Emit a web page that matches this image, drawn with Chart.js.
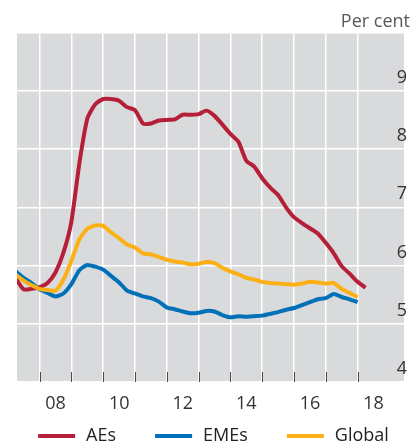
<!DOCTYPE html>
<html>
<head>
<meta charset="utf-8">
<script src="https://cdn.jsdelivr.net/npm/chart.js@4"></script>
<style>
    html, body { margin: 0; padding: 0; background: #fff; }
    #wrap { width: 417px; height: 448px; }
</style>
</head>
<body>
<div id="wrap"><canvas id="rateChart"></canvas></div>
<script>
// quarterly observations, decimal years
var quarters = [2007.25, 2007.5, 2007.75, 2008, 2008.25, 2008.5, 2008.75, 2009, 2009.25, 2009.5, 2009.75,
    2010, 2010.25, 2010.5, 2010.75, 2011, 2011.25, 2011.5, 2011.75, 2012, 2012.25, 2012.5, 2012.75,
    2013, 2013.25, 2013.5, 2013.75, 2014, 2014.25, 2014.5, 2014.75, 2015, 2015.25, 2015.5, 2015.75,
    2016, 2016.25, 2016.5, 2016.75, 2017, 2017.25, 2017.5, 2017.75, 2018, 2018.25];
var aes = [5.78, 5.59, 5.60, 5.63, 5.70, 5.88, 6.22, 6.75, 7.75, 8.52, 8.77,
    8.86, 8.86, 8.83, 8.72, 8.67, 8.44, 8.44, 8.49, 8.50, 8.51, 8.59, 8.59,
    8.60, 8.66, 8.57, 8.42, 8.26, 8.13, 7.80, 7.70, 7.50, 7.34, 7.21, 7.00,
    6.83, 6.73, 6.64, 6.55, 6.39, 6.21, 5.99, 5.86, 5.72, 5.62];
var emes = [5.90, 5.79, 5.70, 5.59, 5.53, 5.47, 5.52, 5.68, 5.92, 6.01, 5.98,
    5.93, 5.82, 5.71, 5.57, 5.52, 5.47, 5.44, 5.38, 5.28, 5.25, 5.21, 5.18,
    5.19, 5.22, 5.21, 5.15, 5.11, 5.13, 5.12, 5.13, 5.14, 5.17, 5.20, 5.24,
    5.27, 5.32, 5.37, 5.42, 5.44, 5.51, 5.46, 5.42, 5.37, null];
var globalRate = [5.84, 5.74, 5.66, 5.60, 5.58, 5.57, 5.76, 6.08, 6.45, 6.63, 6.69,
    6.68, 6.57, 6.47, 6.36, 6.31, 6.21, 6.19, 6.15, 6.10, 6.07, 6.05, 6.02,
    6.03, 6.06, 6.04, 5.96, 5.90, 5.85, 5.79, 5.76, 5.72, 5.70, 5.69, 5.68,
    5.67, 5.69, 5.72, 5.71, 5.69, 5.70, 5.60, 5.53, 5.46, null];
var yearTicks = [2008, 2009, 2010, 2011, 2012, 2013, 2014, 2015, 2016, 2017, 2018];
var valueTicks = [4, 5, 6, 7, 8, 9, 10];

function points(values) {
    return quarters.map(function (q, i) {
        return { x: q, y: values[i] };
    }).filter(function (p) {
        return p.y !== null;
    });
}

// grey plot background
var plotBackground = {
    id: 'plotBackground',
    beforeDraw: function (chart) {
        var a = chart.chartArea;
        chart.ctx.save();
        chart.ctx.fillStyle = '#d9dadc';
        chart.ctx.fillRect(a.left, a.top, a.right - a.left, a.bottom - a.top);
        chart.ctx.restore();
    }
};

// short dark year marks standing on the bottom edge
var yearMarks = {
    id: 'yearMarks',
    afterDraw: function (chart) {
        var xScale = chart.scales.x;
        var a = chart.chartArea;
        var ctx = chart.ctx;
        ctx.save();
        ctx.strokeStyle = '#4a4a4a';
        ctx.lineWidth = 1;
        yearTicks.forEach(function (yr) {
            var px = Math.round(xScale.getPixelForValue(yr)) + 0.5;
            ctx.beginPath();
            ctx.moveTo(px, a.bottom - 10);
            ctx.lineTo(px, a.bottom);
            ctx.stroke();
        });
        ctx.restore();
    }
};

// legend row under the axis: short thick swatch + label, wide gaps
var bottomLegend = {
    id: 'bottomLegend',
    afterDraw: function (chart) {
        var ctx = chart.ctx;
        var a = chart.chartArea;
        var swatch = 37, gap = 11, space = 39;
        var y = chart.height - 12;
        ctx.save();
        ctx.font = "18px 'Open Sans', sans-serif";
        ctx.textBaseline = 'middle';
        ctx.textAlign = 'left';
        var sets = chart.data.datasets;
        var widths = sets.map(function (ds) {
            return swatch + gap + ctx.measureText(ds.label).width;
        });
        var total = widths.reduce(function (s, w) { return s + w; }, 0) + space * (sets.length - 1);
        var x = (a.left + a.right) / 2 + 3 - total / 2;
        sets.forEach(function (ds, i) {
            ctx.fillStyle = ds.borderColor;
            ctx.fillRect(x, y - 2, swatch, 4);
            ctx.fillStyle = '#222';
            ctx.fillText(ds.label, x + swatch + gap, y);
            x += widths[i] + space;
        });
        ctx.restore();
    }
};

Chart.defaults.font.family = "'Open Sans', sans-serif";
Chart.defaults.font.size = 18;
Chart.defaults.color = '#333';

var ctx = document.getElementById('rateChart').getContext('2d');
var rateChart = new Chart(ctx, {
    type: 'line',
    data: {
        datasets: [{
            label: 'AEs',
            data: points(aes),
            borderColor: '#b51f38',
            backgroundColor: '#b51f38',
            borderWidth: 4,
            order: 1
        }, {
            label: 'EMEs',
            data: points(emes),
            borderColor: '#0071b9',
            backgroundColor: '#0071b9',
            borderWidth: 4,
            order: 2
        }, {
            label: 'Global',
            data: points(globalRate),
            borderColor: '#fdb015',
            backgroundColor: '#fdb015',
            borderWidth: 4,
            order: 0
        }]
    },
    options: {
        responsive: true,
        maintainAspectRatio: false,
        animation: false,
        layout: {
            padding: { left: 17, right: 7, top: 0, bottom: 22.4 }
        },
        elements: {
            point: { radius: 0 },
            line: { tension: 0.2, borderJoinStyle: 'round', borderCapStyle: 'butt' }
        },
        scales: {
            x: {
                type: 'linear',
                min: 2007.29,
                max: 2019.46,
                afterBuildTicks: function (scale) {
                    scale.ticks = yearTicks.map(function (v) { return { value: v }; });
                },
                ticks: {
                    autoSkip: false,
                    maxRotation: 0,
                    padding: 11,
                    labelOffset: 16,
                    color: '#333',
                    callback: function (value) {
                        return value % 2 === 0 ? String(value).slice(2) : '';
                    }
                },
                grid: {
                    color: '#ffffff',
                    lineWidth: 1.5,
                    drawTicks: false
                },
                border: { display: false }
            },
            y: {
                position: 'right',
                min: 4,
                max: 10,
                afterBuildTicks: function (scale) {
                    scale.ticks = valueTicks.map(function (v) { return { value: v }; });
                },
                ticks: {
                    mirror: true,
                    padding: 3,
                    labelOffset: -13,
                    color: '#333',
                    callback: function (value) {
                        return value === 10 ? '' : value;
                    }
                },
                grid: {
                    color: '#ffffff',
                    lineWidth: 1.5,
                    drawTicks: false
                },
                border: { display: false }
            }
        },
        plugins: {
            title: {
                display: true,
                text: 'Per cent',
                align: 'end',
                color: '#595959',
                font: { size: 18, weight: 'normal' },
                padding: { top: 11, bottom: 0 }
            },
            legend: { display: false },
            tooltip: { enabled: false }
        }
    },
    plugins: [plotBackground, yearMarks, bottomLegend]
});
</script>
</body>
</html>
